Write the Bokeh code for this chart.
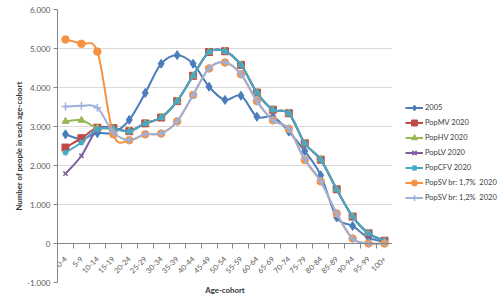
import math
from bokeh.plotting import figure
from bokeh.layouts import row
from bokeh.models import Range1d, FixedTicker, Legend, LegendItem, Title
from bokeh.embed import file_html
from bokeh.resources import INLINE

# ---------------- data ----------------
cats = ["0-4", "5-9", "10-14", "15-19", "20-24", "25-29", "30-34", "35-39",
        "40-44", "45-49", "50-54", "55-59", "60-64", "65-69", "70-74", "75-79",
        "80-84", "85-89", "90-94", "95-99", "100+"]

s2005 = [2800, 2680, 2830, 2840, 3170, 3860, 4610, 4830, 4610, 4020, 3680,
         3790, 3250, 3250, 2870, 2370, 1750, 670, 450, 150, 40]
pop_mv = [2460, 2700, 2970, 2960, 2880, 3080, 3230, 3650, 4300, 4910, 4930,
          4580, 3870, 3430, 3340, 2570, 2150, 1390, 690, 260, 70]
pop_hv = [3130, 3160, 2960, 2950, 2880, 3080, 3230, 3650, 4300, 4910, 4930,
          4580, 3870, 3430, 3340, 2570, 2150, 1390, 690, 260, 70]
pop_lv = [1790, 2250, 2930, 2960, 2880, 3080, 3230, 3650, 4300, 4910, 4930,
          4580, 3870, 3430, 3340, 2570, 2150, 1390, 690, 260, 70]
pop_cfv = [2330, 2590, 2930, 2940, 2870, 3080, 3230, 3650, 4300, 4910, 4930,
           4580, 3870, 3430, 3340, 2570, 2150, 1390, 690, 260, 70]
pop_sv17 = [5230, 5120, 4920, 2800, 2650, 2800, 2820, 3130, 3810, 4490, 4640,
            4340, 3650, 3160, 2940, 2140, 1590, 770, 130, 0, 0]
pop_sv12 = [3510, 3530, 3480, 2850, 2650, 2800, 2820, 3130, 3810, 4490, 4650,
            4340, 3650, 3160, 2940, 2160, 1600, 770, 120, 0, 0]

series_names = ["2005", "PopMV 2020", "PopHV 2020", "PopLV 2020", "PopCFV 2020",
                "PopSV br: 1,7%  2020", "PopSV br: 1,2%  2020"]

y_ticks = [-1000, 0, 1000, 2000, 3000, 4000, 5000, 6000]
y_tick_labels = ["-1.000", "0", "1.000", "2.000", "3.000", "4.000", "5.000", "6.000"]

# ---------------- styles ----------------
colors = ["#4A7EBB", "#BE4B48", "#98B954", "#7D60A0", "#46AAC5", "#F69240", "#9DB0DC"]
markers = ["diamond", "square", "triangle", "x", "asterisk", "circle", "cross"]
msizes = [9, 7, 7, 6, 6, 7.5, 8]
FONT = "Lato"

n = len(cats)
xc = [i + 0.5 for i in range(n)]
bounds = [float(i) for i in range(n + 1)]


def smooth(xs, ys):
    """Bezier control points (Catmull-Rom style) for Excel-like smoothed lines."""
    m = len(xs)
    out = dict(x0=[], y0=[], x1=[], y1=[], cx0=[], cy0=[], cx1=[], cy1=[])
    for i in range(m - 1):
        xa, ya = (xs[i - 1], ys[i - 1]) if i > 0 else (xs[i], ys[i])
        xb, yb = xs[i], ys[i]
        xcc, ycc = xs[i + 1], ys[i + 1]
        xd, yd = (xs[i + 2], ys[i + 2]) if i + 2 < m else (xs[i + 1], ys[i + 1])
        out["x0"].append(xb); out["y0"].append(yb)
        out["x1"].append(xcc); out["y1"].append(ycc)
        out["cx0"].append(xb + (xcc - xa) / 6.0); out["cy0"].append(yb + (ycc - ya) / 6.0)
        out["cx1"].append(xcc - (xd - xb) / 6.0); out["cy1"].append(ycc - (yd - yb) / 6.0)
    return out


p = figure(width=392, height=304, x_range=Range1d(0, n), y_range=Range1d(-1000, 6000),
           output_backend="svg", toolbar_location=None,
           min_border_left=57, min_border_right=0, min_border_top=9, min_border_bottom=22)
p.outline_line_color = None
p.background_fill_color = "white"

# y axis
p.yaxis.ticker = FixedTicker(ticks=y_ticks)
p.yaxis.major_label_overrides = {t: l for t, l in zip(y_ticks, y_tick_labels)}
p.yaxis.axis_line_color = "#868686"
p.yaxis.major_tick_line_color = "#868686"
p.yaxis.major_tick_out = 4
p.yaxis.major_tick_in = 0
p.yaxis.minor_tick_line_color = None
p.yaxis.major_label_text_font = FONT
p.yaxis.major_label_text_font_size = "8px"
p.yaxis.major_label_text_color = "#595959"
p.yaxis.major_label_standoff = 3
p.yaxis.axis_label = "Number of people in each age-cohort"
p.yaxis.axis_label_text_font = FONT
p.yaxis.axis_label_text_font_size = "7.8px"
p.yaxis.axis_label_text_font_style = "bold"
p.yaxis.axis_label_text_color = "#333333"
p.yaxis.axis_label_standoff = 0

p.ygrid.ticker = FixedTicker(ticks=y_ticks)
p.ygrid.grid_line_color = "#D9D9D9"
p.xgrid.visible = False

# x axis at zero
xa = p.xaxis[0]
xa.fixed_location = 0
xa.ticker = FixedTicker(ticks=xc, minor_ticks=bounds)
xa.major_label_overrides = {x: c for x, c in zip(xc, cats)}
xa.major_label_orientation = math.pi / 4
xa.major_tick_line_color = None
xa.major_tick_out = 5
xa.major_tick_in = 0
xa.minor_tick_line_color = "#868686"
xa.minor_tick_out = 5
xa.minor_tick_in = 0
xa.axis_line_color = "#868686"
xa.major_label_text_font = FONT
xa.major_label_text_font_size = "7.5px"
xa.major_label_text_color = "#595959"
xa.major_label_standoff = 9

xtitle = Title(text="Age-cohort", align="center", text_font=FONT, text_font_size="7.8px",
               text_font_style="bold", text_color="#333333", standoff=0, offset=0)
p.add_layout(xtitle, "below")

# legend panel (proxy renderers sit outside its visible ranges)
q = figure(width=111, height=304, x_range=Range1d(-3, -2), y_range=Range1d(-3, -2),
           output_backend="svg", toolbar_location=None,
           x_axis_type=None, y_axis_type=None,
           min_border_left=0, min_border_right=0, min_border_top=0, min_border_bottom=0)
q.outline_line_color = None
q.xgrid.visible = False
q.ygrid.visible = False

all_series = [s2005, pop_mv, pop_hv, pop_lv, pop_cfv, pop_sv17, pop_sv12]
items = []
for name, vals, col, mk, ms in zip(series_names, all_series, colors, markers, msizes):
    bz = smooth(xc, vals)
    p.bezier(line_color=col, line_width=2, source=bz,
             x0="x0", y0="y0", x1="x1", y1="y1",
             cx0="cx0", cy0="cy0", cx1="cx1", cy1="cy1")
    lw = 1.5 if mk in ("x", "asterisk", "cross") else 1
    p.scatter(xc, vals, marker=mk, size=ms, fill_color=col, line_color=col, line_width=lw)
    ql = q.line(x=xc, y=vals, line_color=col, line_width=2)
    qs = q.scatter(x=xc, y=vals, marker=mk, size=ms - 1, fill_color=col, line_color=col,
                   line_width=lw)
    items.append(LegendItem(label=name, renderers=[ql, qs]))

legend = Legend(items=items, location=(13, 77), orientation="vertical",
                border_line_color=None, background_fill_alpha=0,
                padding=0, margin=0, spacing=0,
                glyph_width=18, glyph_height=15, label_height=15,
                label_standoff=2,
                label_text_font=FONT, label_text_font_size="7.5px",
                label_text_color="#404040")
q.add_layout(legend, "center")

open("out.html", "w").write(file_html(row(p, q), INLINE))
